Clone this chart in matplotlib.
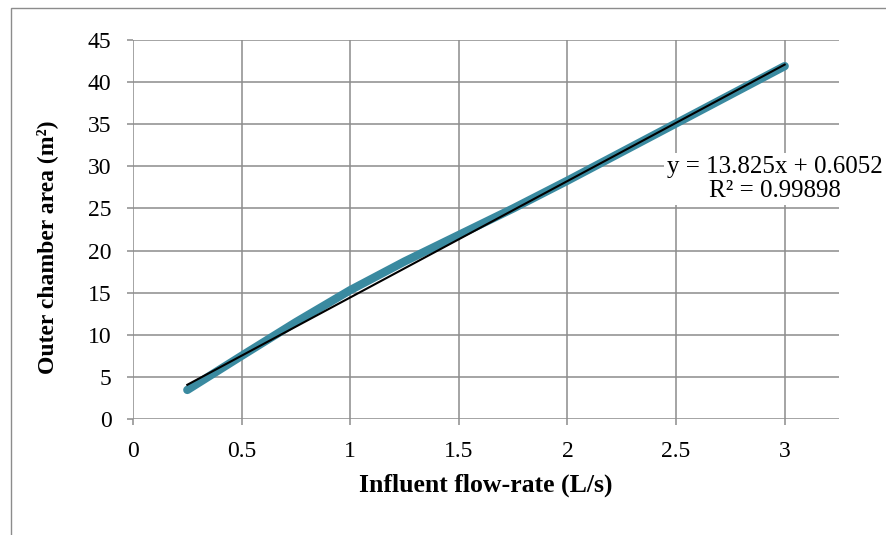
import numpy as np
import matplotlib
matplotlib.use("Agg")
import matplotlib.pyplot as plt
from matplotlib.patches import Rectangle

# data
flow_rate = [0.25, 0.5, 0.75, 1.0, 1.25, 1.5, 1.75, 2.0, 2.25, 2.5, 2.75, 3.0]
chamber_area = [3.45, 7.5, 11.5, 15.3, 18.7, 21.85, 25.0, 28.3, 31.7, 35.1, 38.5, 41.9]

# linear trendline as printed on the chart
trend_slope = 13.825
trend_intercept = 0.6052
trend_r2 = 0.99898

x_ticks = [0, 0.5, 1, 1.5, 2, 2.5, 3]
y_ticks = [0, 5, 10, 15, 20, 25, 30, 35, 40, 45]

GRID = "#8c8c8c"
BLUE = "#3a8aa0"
SERIF = ["Liberation Serif", "DejaVu Serif"]

fig = plt.figure(figsize=(8.87, 5.35), dpi=100)
ax = fig.add_axes([133 / 887, 1 - 419 / 535, (839 - 133) / 887, (419 - 40) / 535])

# chart-area border (only left and top visible in the crop)
fig.patches.append(Rectangle((11 / 887, -0.1), 2, 1 - 8 / 535 + 0.1,
                             transform=fig.transFigure, fill=False,
                             edgecolor=GRID, lw=1.0))

ax.set_xlim(0, 3.25)
ax.set_ylim(0, 45)
ax.set_xticks(x_ticks)
ax.set_yticks(y_ticks)
ax.set_xticklabels([f"{t:g}" for t in x_ticks])
ax.set_yticklabels([f"{t:g}" for t in y_ticks])

for s in ax.spines.values():
    s.set_visible(False)
ax.grid(True, color=GRID, lw=1.1)
ax.set_axisbelow(True)
ax.tick_params(axis="both", length=4.5, width=1.1, color=GRID,
               labelsize=17, direction="out")
ax.tick_params(axis="x", pad=11)
ax.tick_params(axis="y", pad=11)
for lbl in ax.get_xticklabels() + ax.get_yticklabels():
    lbl.set_fontfamily(SERIF)

ax.plot(flow_rate, chamber_area, color=BLUE, lw=6, solid_capstyle="round", zorder=3)

tx = np.array([flow_rate[0], flow_rate[-1]])
ax.plot(tx, trend_slope * tx + trend_intercept, color="black", lw=1.5, zorder=4)

ax.text(2.954, 28.5, f"y = {trend_slope}x + {trend_intercept}\nR² = {trend_r2}",
        ha="center", va="center", multialignment="center", fontsize=18,
        family=SERIF, linespacing=1.1, clip_on=False, zorder=5,
        bbox=dict(facecolor="white", edgecolor="none", pad=2))

ax.set_xlabel("Influent flow-rate (L/s)", fontsize=18.5, fontweight="bold",
              family=SERIF)
ax.set_ylabel("Outer chamber area (m²)", fontsize=17, fontweight="bold",
              family=SERIF)
ax.xaxis.set_label_coords(0.5, (419 - 474) / 379)
ax.yaxis.set_label_coords((58 - 133) / 706, (419 - 247) / 379)

fig.savefig("out.png", dpi=100)
